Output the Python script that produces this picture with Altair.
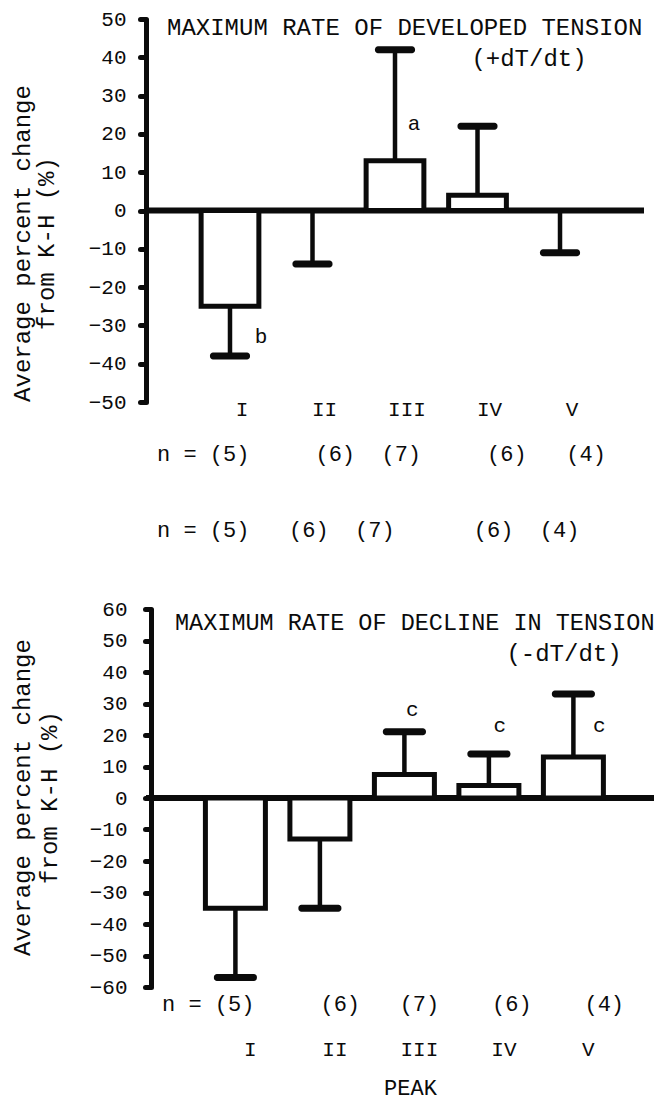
import altair as alt
import pandas as pd

# ---------------- data ----------------
cats = ["I", "II", "III", "IV", "V"]

top_mean = [-25, 0, 13, 4, 0]
top_err = [-38, -14, 42, 22, -11]
top_sig = ["b", "", "a", "", ""]
top_sig_y = [-33, 0, 22.5, 0, 0]
top_n = [5, 6, 7, 6, 4]
top_ticks = [-50, -40, -30, -20, -10, 0, 10, 20, 30, 40, 50]

bot_mean = [-35, -13, 7.5, 4, 13]
bot_err = [-57, -35, 21, 14, 33]
bot_sig = ["", "", "c", "c", "c"]
bot_sig_y = [0, 0, 28, 23, 23]
bot_n = [5, 6, 7, 6, 4]
bot_ticks = [-60, -50, -40, -30, -20, -10, 0, 10, 20, 30, 40, 50, 60]

FONT = "Liberation Mono"
INK = "#0b0b0b"
NBSP = "\u00a0"


def nrow(n, gaps):
    s = "n" + NBSP + "=" + NBSP
    for i, v in enumerate(n):
        s += "(" + str(v) + ")"
        if i < len(gaps):
            s += NBSP * gaps[i]
    return s


def label_layer(text, x, y, size=24, align="left"):
    return alt.Chart(pd.DataFrame({"t": [text]})).mark_text(
        font=FONT, fontSize=size, color=INK, align=align, baseline="middle"
    ).encode(text="t:N", x=alt.value(x), y=alt.value(y))


def panel(mean, err, sig, sig_y, ticks, width, height, xscale, cap,
          x_axis, y_axis, sig_dx, extra):
    df = pd.DataFrame({"peak": cats, "mean": mean, "err": err,
                       "sig": sig, "sig_y": sig_y})
    dom = [ticks[0], ticks[-1]]
    yscale = alt.Scale(domain=dom, nice=False, zero=False)
    x = alt.X("peak:N", sort=cats, scale=xscale, axis=x_axis)
    y = alt.Y("mean:Q", scale=yscale, axis=y_axis)
    base = alt.Chart(df)
    zero = alt.Chart(pd.DataFrame({"z": [0]})).mark_rule(
        color=INK, strokeWidth=6).encode(
        y=alt.Y("z:Q", scale=yscale, axis=y_axis))
    bars = base.mark_bar(fill="white", stroke=INK, strokeWidth=5).encode(
        x=x, y=y, y2=alt.datum(0))
    whisk = base.mark_rule(color=INK, strokeWidth=4.5).encode(
        x=x, y="mean:Q", y2="err:Q")
    caps = base.mark_tick(color=INK, size=cap, thickness=7, cornerRadius=3,
                          opacity=1).encode(x=x, y="err:Q")
    layers = [zero, bars, whisk, caps]
    for cat, dx in sig_dx.items():
        layers.append(
            base.transform_filter(alt.datum.peak == cat).mark_text(
                font=FONT, fontSize=21, color=INK, dx=dx, baseline="middle"
            ).encode(x=x, y="sig_y:Q", text="sig:N"))
    layers += extra
    return alt.layer(*layers).properties(width=width, height=height)


top_y_axis = alt.Axis(
    values=top_ticks, tickCount=40, title=["Average percent change", "from K-H (%)"],
    titleFont=FONT, titleFontSize=24, titleFontWeight="normal", titleColor=INK,
    titleX=-124, titleY=224, titleAngle=270, titleAlign="center",
    titleBaseline="middle", titleLineHeight=24,
    labelFont=FONT, labelFontSize=21, labelColor=INK, labelPadding=14,
    labelOverlap=False,
    domainColor=INK, domainWidth=5, tickColor=INK, tickSize=6, tickWidth=5,
    tickCap="round", grid=False)
top_x_axis = alt.Axis(
    title=None, domain=False, ticks=False, labelAngle=0, labelFont=FONT,
    labelFontSize=21, labelColor=INK, labelPadding=7, labelBaseline="middle",
    labelOffset=12)

top = panel(
    top_mean, top_err, top_sig, top_sig_y, top_ticks, 498, 383,
    alt.Scale(paddingInner=0.3, paddingOuter=0.668), 40,
    top_x_axis, top_y_axis, {"I": 31, "III": 19},
    [
        label_layer("MAXIMUM RATE OF DEVELOPED TENSION", 21, 9),
        label_layer("(+dT/dt)", 383, 40, align="center"),
        label_layer(nrow(top_n, [5, 2, 5, 3]), 11, 435, size=22),
        label_layer(nrow(top_n, [3, 2, 6, 2]), 11, 511, size=22),
    ])

bot_y_axis = alt.Axis(
    values=bot_ticks, tickCount=40, title=["Average percent change", "from K-H (%)"],
    titleFont=FONT, titleFontSize=24, titleFontWeight="normal", titleColor=INK,
    titleX=-129, titleY=188, titleAngle=270, titleAlign="center",
    titleBaseline="middle", titleLineHeight=27, offset=-5,
    labelFont=FONT, labelFontSize=21, labelColor=INK, labelPadding=18,
    labelOverlap=False,
    domainColor=INK, domainWidth=5, tickColor=INK, tickSize=6, tickWidth=5,
    tickCap="round", grid=False)
bot_x_axis = alt.Axis(
    title="PEAK", titleFont=FONT, titleFontSize=22, titleFontWeight="normal",
    titleColor=INK, titleY=100, titleX=264, titleBaseline="middle",
    domain=False, ticks=False, labelAngle=0, labelFont=FONT,
    labelFontSize=21, labelColor=INK, labelPadding=62, labelBaseline="middle",
    labelOffset=15)

bottom = panel(
    bot_mean, bot_err, bot_sig, bot_sig_y, bot_ticks, 508, 378,
    alt.Scale(paddingInner=0.29, paddingOuter=0.651, align=0.54), 43,
    bot_x_axis, bot_y_axis, {"III": 8, "IV": 11, "V": 26},
    [
        label_layer("MAXIMUM RATE OF DECLINE IN TENSION", 29, 14, size=23.5),
        label_layer("(-dT/dt)", 418, 45, align="center"),
        label_layer(nrow(bot_n, [5, 3, 4, 4]), 16, 395, size=22),
    ])

chart = alt.vconcat(top, bottom, spacing=207, bounds="flush").properties(
    padding={"left": 2, "top": 0, "right": 0, "bottom": 3},
    background="white",
).configure_view(stroke=None)

chart.save("out.html", embed_options={"renderer": "svg", "actions": False})
